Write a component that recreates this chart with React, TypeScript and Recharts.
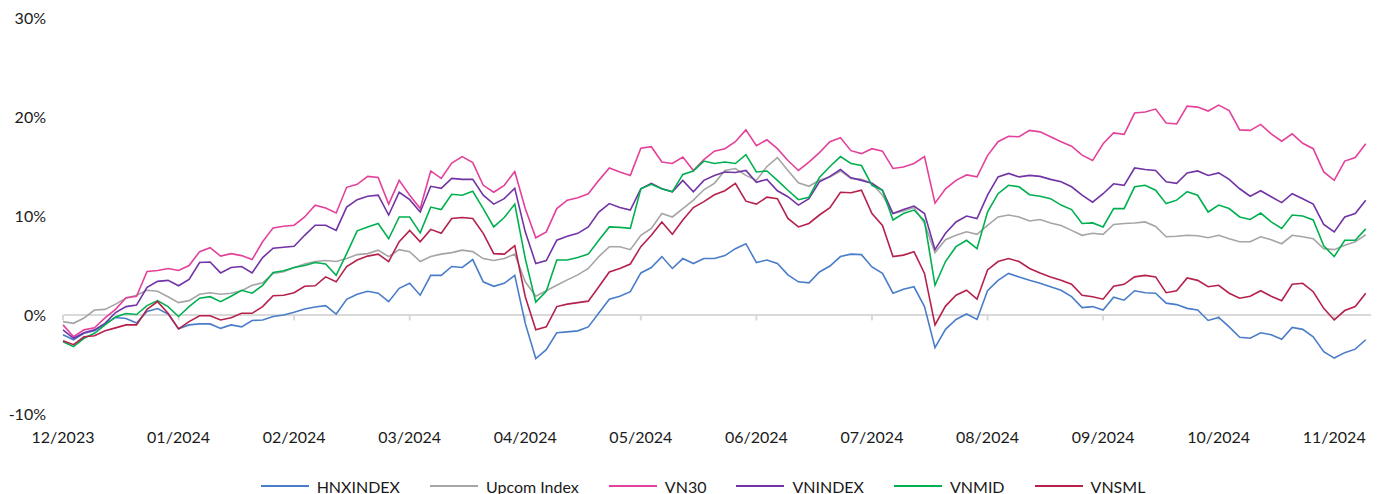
import { LineChart, Line, XAxis, YAxis, ReferenceLine } from 'recharts'

// one sample every 2nd trading session (% change since start)
const hnx = [
  -2.0, -2.5, -1.85, -1.6, -0.9, -0.25, -0.35, -0.8, 0.35, 0.65, 0.1, -1.4, -1.0, -0.9, -0.9, -1.35, -1.0, -1.2, -0.55, -0.5, -0.15,
  0, 0.27, 0.6, 0.8, 0.95, 0.1, 1.58, 2.1, 2.4, 2.2, 1.35, 2.7, 3.2, 2.0, 4.0, 4.0, 4.9, 4.8, 5.6, 3.35, 2.9,
  3.2, 4.0, -0.85, -4.4, -3.5, -1.8, -1.7, -1.6, -1.2, 0.2, 1.6, 1.9, 2.35, 4.25, 4.8, 5.9, 4.7, 5.7, 5.2, 5.7, 5.7,
  6.0, 6.7, 7.2, 5.3, 5.55, 5.2, 4.05, 3.35, 3.25, 4.35, 4.95, 5.9, 6.15, 6.1, 4.85, 4.2, 2.2, 2.6, 2.85, 0.85, -3.3,
  -1.45, -0.45, 0.1, -0.45, 2.45, 3.5, 4.2, 3.85, 3.5, 3.2, 2.85, 2.5, 1.85, 0.75, 0.85, 0.5, 1.8, 1.5, 2.45, 2.25, 2.2,
  1.2, 1.05, 0.67, 0.5, -0.55, -0.25, -1.2, -2.25, -2.35, -1.8, -2.0, -2.45, -1.25, -1.45, -2.2, -3.7, -4.35, -3.8, -3.45, -2.5,
]

const upcom = [
  -0.67, -0.84, -0.3, 0.5, 0.57, 1.1, 1.7, 2.0, 2.5, 2.4, 1.85, 1.25, 1.45, 2.1, 2.25, 2.1, 2.2, 2.45, 3.0, 3.25, 4.2,
  4.37, 4.8, 5.15, 5.4, 5.5, 5.4, 5.7, 6.1, 6.2, 6.55, 5.9, 6.6, 6.4, 5.4, 5.9, 6.15, 6.3, 6.55, 6.4, 5.7, 5.5,
  5.7, 6.15, 3.35, 1.9, 2.45, 3.0, 3.55, 4.05, 4.7, 5.9, 6.9, 6.9, 6.6, 8.05, 8.75, 10.25, 9.9, 10.75, 11.6, 12.65, 13.3,
  14.6, 14.8, 14.1, 13.6, 15.0, 15.9, 14.6, 13.35, 13.0, 13.6, 13.95, 14.55, 13.8, 13.7, 13.3, 12.1, 10.25, 10.5, 10.85, 9.25, 6.3,
  7.6, 8.05, 8.4, 8.15, 9.05, 9.9, 10.1, 9.9, 9.5, 9.65, 9.3, 9.05, 8.55, 8.05, 8.25, 8.15, 9.15, 9.25, 9.3, 9.4, 8.95,
  7.9, 7.95, 8.05, 8.0, 7.8, 8.05, 7.7, 7.4, 7.4, 7.9, 7.6, 7.2, 8.05, 7.9, 7.7, 6.7, 6.6, 7.05, 7.4, 8.1,
]

const vn30 = [
  -1.0, -2.2, -1.5, -1.3, -0.3, 0.57, 1.75, 1.9, 4.4, 4.5, 4.7, 4.5, 5.0, 6.4, 6.8, 5.95, 6.2, 6.0, 5.6, 7.4, 8.8,
  8.97, 9.07, 9.9, 11.1, 10.8, 10.3, 12.9, 13.2, 14.0, 13.9, 11.2, 13.6, 12.1, 10.75, 14.55, 13.8, 15.35, 16.0, 15.4, 13.1, 12.4,
  13.1, 14.5, 10.75, 7.8, 8.4, 10.75, 11.6, 11.85, 12.25, 13.6, 14.85, 14.45, 14.1, 16.85, 17.0, 15.45, 15.3, 15.95, 14.6, 15.7, 16.55,
  16.8, 17.5, 18.7, 17.1, 17.7, 16.8, 15.6, 14.6, 15.45, 16.4, 17.5, 17.9, 16.6, 16.3, 16.8, 16.55, 14.8, 14.95, 15.3, 16.0, 11.3,
  12.75, 13.6, 14.15, 13.95, 16.1, 17.5, 18.05, 18.0, 18.65, 18.5, 18.0, 17.5, 17.05, 16.15, 15.6, 17.3, 18.4, 18.25, 20.4, 20.5, 20.8,
  19.4, 19.3, 21.1, 21.0, 20.6, 21.2, 20.65, 18.7, 18.65, 19.25, 18.3, 17.55, 18.3, 17.35, 16.8, 14.45, 13.6, 15.55, 15.9, 17.3,
]

const vnindex = [
  -1.5, -2.35, -1.8, -1.5, -0.85, 0.25, 0.85, 1.0, 2.8, 3.4, 3.5, 2.95, 3.6, 5.3, 5.35, 4.25, 4.8, 4.9, 4.25, 5.8, 6.75,
  6.85, 6.95, 8.05, 9.07, 9.07, 8.55, 10.9, 11.65, 12.0, 12.1, 10.1, 12.4, 11.65, 10.4, 13.0, 12.8, 13.8, 13.7, 13.7, 12.1, 11.2,
  11.75, 12.8, 8.4, 5.2, 5.5, 7.55, 7.95, 8.25, 8.9, 10.4, 11.25, 10.85, 10.6, 12.75, 13.3, 12.75, 12.45, 13.6, 12.45, 13.6, 14.1,
  14.45, 14.4, 14.6, 13.4, 13.7, 12.55, 11.95, 11.1, 11.75, 13.45, 14.0, 14.7, 13.85, 13.6, 13.3, 12.6, 10.25, 10.65, 11.0, 10.25, 6.6,
  8.25, 9.4, 10.0, 9.75, 12.1, 13.95, 14.3, 13.95, 14.1, 14.0, 13.7, 13.45, 12.95, 12.1, 11.4, 12.25, 13.25, 13.1, 14.85, 14.7, 14.6,
  13.45, 13.3, 14.35, 14.55, 14.1, 14.35, 13.7, 12.75, 12.0, 12.55, 11.95, 11.35, 12.25, 11.75, 11.2, 9.15, 8.4, 9.9, 10.25, 11.6,
]

const vnmid = [
  -2.7, -3.2, -2.35, -1.85, -1.0, -0.2, 0.15, 0.05, 0.95, 1.45, 0.85, -0.15, 0.85, 1.7, 1.85, 1.35, 1.9, 2.5, 2.2, 3.0, 4.3,
  4.47, 4.8, 5.0, 5.3, 5.15, 4.0, 6.2, 8.5, 8.9, 9.25, 7.7, 9.9, 9.9, 8.3, 10.9, 10.65, 12.2, 12.1, 12.5, 10.75, 8.9,
  9.85, 11.2, 5.7, 1.3, 2.4, 5.55, 5.55, 5.8, 6.15, 7.55, 8.9, 8.85, 8.75, 12.75, 13.2, 12.75, 12.45, 14.2, 14.55, 15.55, 15.3,
  15.45, 15.3, 16.2, 14.45, 14.55, 13.6, 12.6, 11.65, 11.9, 13.9, 15.0, 16.0, 15.3, 15.1, 13.1, 12.6, 9.6, 10.25, 10.6, 9.5, 3.0,
  5.4, 6.9, 7.55, 6.7, 10.4, 12.25, 13.1, 12.95, 12.15, 12.0, 11.75, 11.1, 10.65, 9.25, 9.3, 8.9, 10.75, 10.75, 12.95, 13.1, 12.6,
  11.25, 11.6, 12.45, 12.1, 10.4, 11.1, 10.75, 9.9, 9.65, 10.3, 9.4, 8.75, 10.1, 10.0, 9.6, 7.0, 5.9, 7.55, 7.55, 8.7,
]

const vnsml = [
  -2.6, -3.0, -2.2, -2.1, -1.6, -1.3, -1.0, -1.0, 0.57, 1.35, 0.17, -1.4, -0.67, -0.07, -0.07, -0.5, -0.27, 0.17, 0.17, 0.85, 1.95,
  2.0, 2.25, 2.9, 2.95, 3.85, 3.35, 4.9, 5.55, 5.95, 6.15, 5.4, 7.4, 8.55, 7.4, 8.65, 8.25, 9.75, 9.85, 9.75, 8.25, 6.2,
  6.15, 7.0, 1.85, -1.5, -1.2, 0.85, 1.1, 1.25, 1.4, 2.85, 4.35, 4.7, 5.15, 6.9, 8.05, 9.4, 8.15, 9.6, 10.85, 11.45, 12.15,
  12.55, 13.3, 11.5, 11.2, 11.9, 11.75, 9.75, 8.9, 9.25, 10.1, 10.85, 12.4, 12.35, 12.6, 10.25, 9.05, 5.9, 6.05, 6.4, 4.2, -1.0,
  0.9, 2.0, 2.5, 1.6, 4.55, 5.4, 5.7, 5.4, 4.7, 4.25, 3.85, 3.5, 3.1, 2.0, 1.85, 1.6, 2.9, 3.1, 3.85, 4.0, 3.85,
  2.25, 2.45, 3.75, 3.5, 2.85, 3.0, 2.2, 1.7, 1.9, 2.45, 1.9, 1.45, 3.1, 3.2, 2.35, 0.67, -0.5, 0.45, 0.85, 2.2,
]

const monthLabels = [
  '12/2023', '01/2024', '02/2024', '03/2024', '04/2024', '05/2024',
  '06/2024', '07/2024', '08/2024', '09/2024', '10/2024', '11/2024',
]
const yTicks = [-10, 0, 10, 20, 30]

const SESSIONS_PER_LABEL = 22
const tickDays = monthLabels.map((_, i) => i * SESSIONS_PER_LABEL)

const series = [
  { name: 'HNXINDEX', values: hnx, color: '#4a7dc9' },
  { name: 'Upcom Index', values: upcom, color: '#a5a5a5' },
  { name: 'VN30', values: vn30, color: '#e4419a' },
  { name: 'VNINDEX', values: vnindex, color: '#7133a6' },
  { name: 'VNMID', values: vnmid, color: '#00b050' },
  { name: 'VNSML', values: vnsml, color: '#b5214b' },
]

const data = hnx.map((_, i) => {
  const row: Record<string, number> = { day: i * 2 }
  series.forEach((s) => { row[s.name] = s.values[i] })
  return row
})

const font = 'Lato, "Open Sans", sans-serif'
const axisGray = '#d9d9d9'

function ChartLegend() {
  return (
    <div
      style={{
        position: 'absolute', top: 476, left: 26, width: 1354, height: 20,
        display: 'flex', justifyContent: 'center', alignItems: 'center',
        fontFamily: font, fontSize: 16, color: '#1a1a1a',
      }}
    >
      {series.map((s) => (
        <div key={s.name} style={{ display: 'flex', alignItems: 'center', margin: '0 15px' }}>
          <div style={{ width: 48, height: 2, background: s.color, marginRight: 8 }} />
          <span>{s.name}</span>
        </div>
      ))}
    </div>
  )
}

export default function App() {
  return (
    <div style={{ position: 'absolute', left: 0, top: 0, width: 1380, height: 494, background: '#fff' }}>
      <LineChart width={1380} height={494} data={data} margin={{ top: 18, right: 9, bottom: 50, left: 8 }}>
        <XAxis
          dataKey="day"
          type="number"
          domain={[0, 249]}
          ticks={tickDays}
          tickFormatter={(_v, i) => monthLabels[i]}
          axisLine={false}
          tickLine={false}
          tickSize={0}
          tickMargin={18}
          height={30}
          tick={{ fill: '#1a1a1a', fontSize: 16, fontFamily: font }}
          interval={0}
        />
        <YAxis
          domain={[-10, 30]}
          ticks={yTicks}
          tickFormatter={(v) => `${v}%`}
          axisLine={false}
          tickLine={false}
          tickSize={0}
          tickMargin={17}
          width={55}
          tick={{ fill: '#1a1a1a', fontSize: 16, fontFamily: font }}
        />
        <ReferenceLine y={0} stroke={axisGray} strokeWidth={2} />
        {tickDays.map((d) => (
          <ReferenceLine
            key={d}
            segment={[{ x: d, y: 0 }, { x: d, y: -0.55 }]}
            stroke={axisGray}
            strokeWidth={2}
          />
        ))}
        {series.map((s) => (
          <Line
            key={s.name}
            type="linear"
            dataKey={s.name}
            stroke={s.color}
            strokeWidth={1.6}
            dot={false}
            activeDot={false}
            isAnimationActive={false}
          />
        ))}
      </LineChart>
      <ChartLegend />
    </div>
  )
}
